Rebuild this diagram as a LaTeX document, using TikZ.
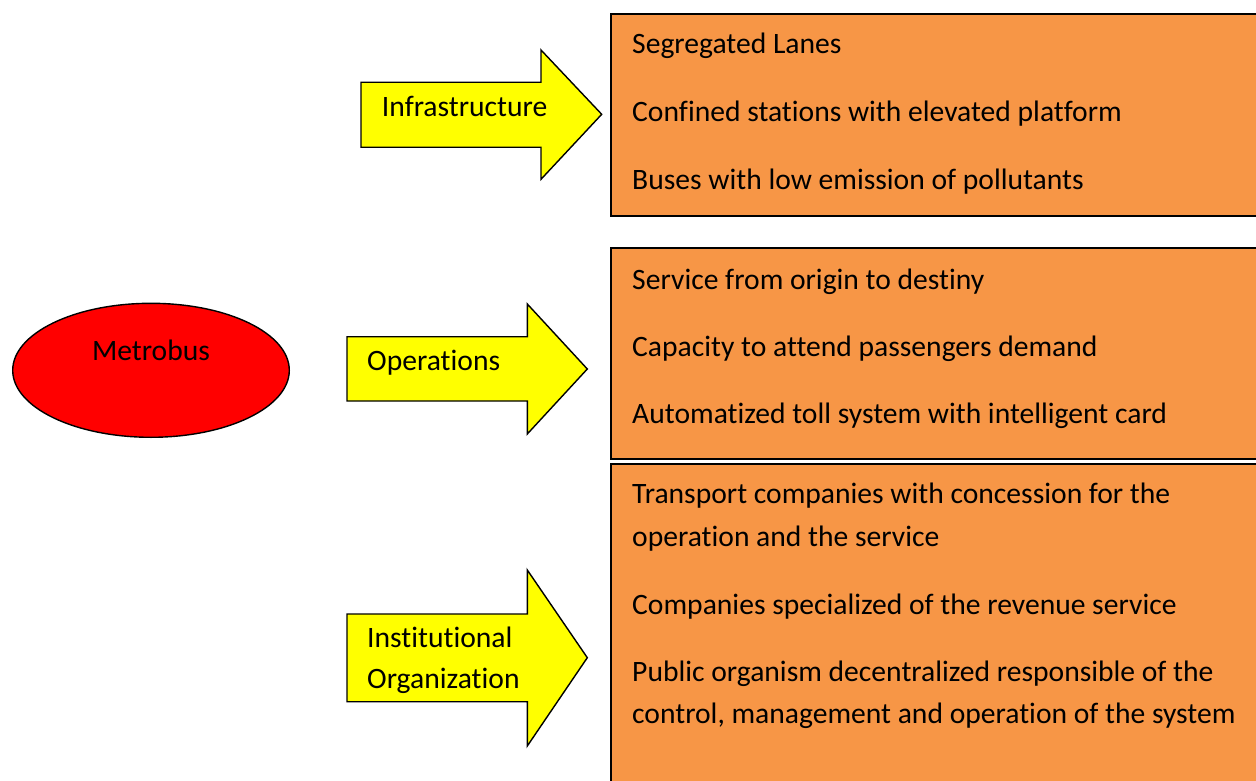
\documentclass[tikz,border=0pt]{standalone}
\usepackage{fontspec}
\setmainfont{Carlito}[Ligatures=NoCommon]
\begin{document}
\begin{tikzpicture}[x=1pt,y=-1pt,
  boxst/.style={draw=black,line width=1.6pt,fill=orangebox},
  arrowst/.style={draw=black,line width=1.4pt,fill=yellow,line join=miter},
  txt/.style={anchor=base west,inner sep=0pt,font=\fontsize{29.6}{35}\selectfont},
]
\definecolor{orangebox}{HTML}{F79646}
\definecolor{yellow}{HTML}{FFFF00}
\definecolor{redfill}{HTML}{FF0000}
\useasboundingbox (0,0) rectangle (1256,781);
\clip (0,0) rectangle (1256,781);
% boxes
\path[boxst] (611,14) rectangle (1275,216);
\path[boxst] (611,248) rectangle (1275,459);
\path[boxst] (611,464) rectangle (1275,800);
% ellipse
\draw[line width=1.4pt,fill=redfill] (151,370.3) ellipse [x radius=138.3, y radius=67];
\node[txt,anchor=base] (metro) at (151,360.5) {Metrobus};
% arrows
\path[arrowst] (361,82.3) -- (541,82.3) -- (541,50) -- (601.7,114.3) -- (541,179.3) -- (541,147.3) -- (361,147.3) -- cycle;
\path[arrowst] (347,336.7) -- (527.3,336.7) -- (527.3,304) -- (587.3,369) -- (527.3,434) -- (527.3,401) -- (347,401) -- cycle;
\path[arrowst] (347,614) -- (527.3,614) -- (527.3,570) -- (587.3,657.7) -- (527.3,746) -- (527.3,701.7) -- (347,701.7) -- cycle;
\node[txt] (infra) at (381.7,116.5) {Infrastructure};
\node[txt] (oper) at (367,370.5) {Operations};
\node[txt] (inst1) at (367,647.5) {Institutional};
\node[txt] (inst2) at (367,688.5) {Organization};
% box texts
\node[txt] (a1) at (632,53.2) {Segregated Lanes};
\node[txt] (a2) at (632,121.2) {Confined stations with elevated platform};
\node[txt] (a3) at (632,189.2) {Buses with low emission of pollutants};
\node[txt] (b1) at (632,289.2) {Service from origin to destiny};
\node[txt] (b2) at (632,356.2) {Capacity to attend passengers demand};
\node[txt] (b3) at (632,423.2) {Automatized toll system with intelligent card};
\node[txt] (c1) at (632,503.8) {Transport companies with concession for the};
\node[txt] (c2) at (632,546.5) {operation and the service};
\node[txt] (c3) at (632,614.2) {Companies specialized of the revenue service};
\node[txt] (c4) at (632,681.2) {Public organism decentralized responsible of the};
\node[txt] (c5) at (632,723.5) {control, management and operation of the system};
\end{tikzpicture}
\end{document}
